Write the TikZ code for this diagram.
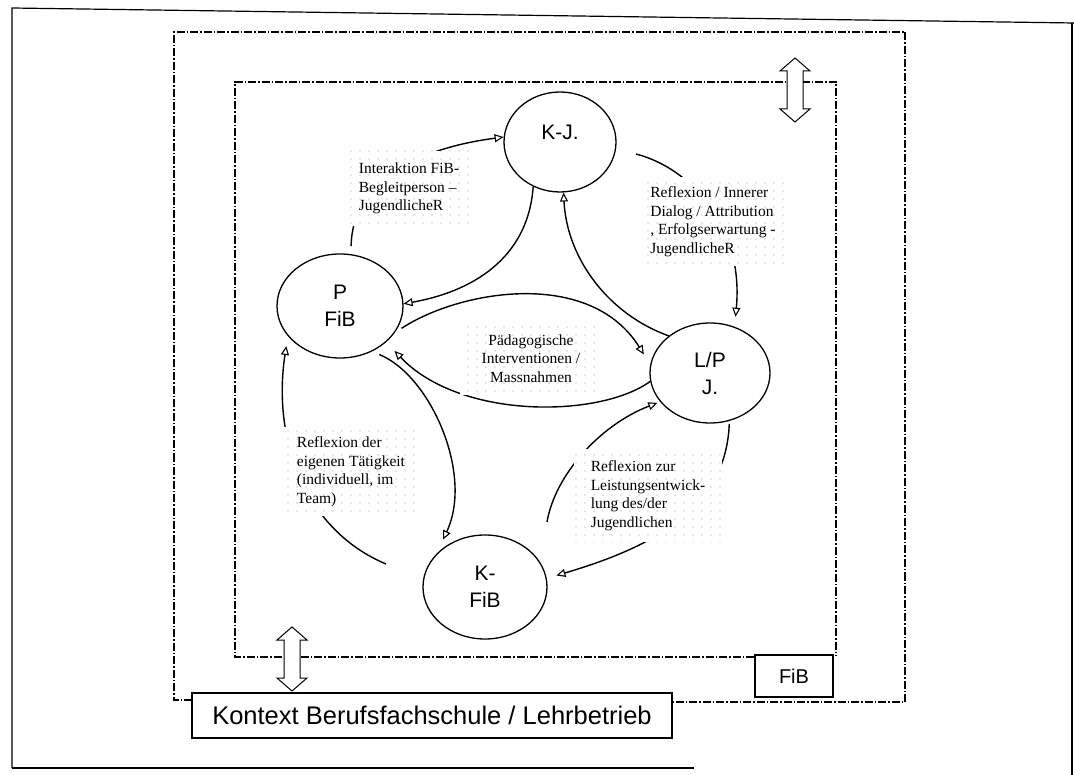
\documentclass[tikz,border=0pt]{standalone}
\usepackage{fontspec}
\setmainfont{Liberation Serif}
\newfontfamily\sansf{Liberation Sans}
\usetikzlibrary{arrows.meta,shapes.geometric,patterns.meta}
\tikzdeclarepattern{
  name=sparsedots,
  type=uncolored,
  bottom left={(-1pt,-1pt)},
  top right={(1pt,1pt)},
  tile size={(9pt,8pt)},
  code={\pgfpathcircle{\pgfpointorigin}{0.6pt}\pgfusepath{fill}}
}
\begin{document}
\begin{tikzpicture}[x=1pt,y=-1pt,
  ell/.style={draw, ellipse, line width=1.3pt, inner sep=0pt, align=center,
     font=\sansf\fontsize{21}{27}\selectfont},
  conn/.style={line width=1.4pt, -{Triangle[open,length=9pt,width=8pt,line width=1.1pt]}},
  lab/.style={preaction={fill=white}, pattern=sparsedots, pattern color=black!40,
     align=left, inner sep=0pt, font=\fontsize{15.5}{18.5}\selectfont},
  frame/.style={line width=1.2pt},
  dd/.style={line width=1.1pt, dash pattern=on 8pt off 2pt on 1.5pt off 2pt},
  txtbox/.style={draw, line width=1.2pt, fill=white, inner sep=0pt,
     font=\sansf\fontsize{20}{24}\selectfont},
  dblv/.pic={\draw[line width=1pt, fill=white] (0,0) -- (15,13) -- (8,13) -- (8,51)
     -- (15,51) -- (0,64) -- (-15,51) -- (-8,51) -- (-8,13) -- (-15,13) -- cycle;}
]
\useasboundingbox (0,0) rectangle (1074,775);
\fill[white] (0,0) rectangle (1074,775);

% outer solid frame
\draw[frame] (12,768) -- (12,8) -- (1074,23);
\draw[frame] (1072,23) -- (1072,775);
\draw[frame] (12,768) -- (694,768);

% dash-dot frames
\draw[dd] (192,700) -- (174,700) -- (174,32) -- (905,32) -- (905,702) -- (672,702);
\draw[dd] (754,657) -- (235,657) -- (235,82) -- (836,82) -- (836,656);

% double arrows
\pic at (795,58) {dblv};
\pic at (292,627) {dblv};

% boxes
\node[txtbox, minimum width=480pt, minimum height=45pt,
      font=\sansf\fontsize{25.5}{29}\selectfont] (ctx) at (432,715.5)
      {Kontext Berufsfachschule / Lehrbetrieb};
\node[txtbox, minimum width=78pt, minimum height=42pt] (fib) at (794,676) {FiB};

% ellipses
\node[ell, minimum width=112pt, minimum height=100pt] (kj) at (560,142) {K-J.\\[-8pt]\mbox{}};
\node[ell, minimum width=126pt, minimum height=104pt] (p) at (340,306) {P\\FiB};
\node[ell, minimum width=120pt, minimum height=100pt] (lp) at (710,373) {L/P\\J.};
\node[ell, minimum width=124pt, minimum height=104pt] (kf) at (485,587) {K-\\FiB};

% free connector ends
\coordinate (ds) at (636,154);
\coordinate (hs) at (386,564);
\coordinate (js) at (547,522);

% connectors
\draw[conn, shorten <=8pt] (p.78) .. controls (352,180) and (420,148) .. (kj.175);
\draw[conn] (kj.-121) .. controls (528,260) and (470,292) .. (p.2);
\draw[conn] (lp.138) .. controls (610,315) and (567,260) .. (kj.-86);
\draw[conn, shorten >=10pt] (ds) .. controls (690,168) and (744,225) .. (lp.62);
\draw[conn, shorten <=8pt, shorten >=12pt] (p.-26) .. controls (460,290) and (590,268) .. (lp.172);
\draw[conn, shorten >=12pt] (lp.-172) .. controls (600,418) and (460,420) .. (p.-38);
\draw[conn, shorten <=8pt, shorten >=16pt] (p.-55) .. controls (430,375) and (474,474) .. (kf.146);
\draw[conn, shorten >=10pt] (hs) .. controls (305,530) and (272,440) .. (p.-150);
\draw[conn, shorten <=3pt, shorten >=10pt] (lp.-68) .. controls (726,505) and (660,545) .. (kf.8);
\draw[conn, shorten >=3pt] (js) .. controls (555,475) and (600,425) .. (lp.-150);

% labels
\node[lab, inner xsep=12pt, inner ysep=12pt] (l1) at (409,188.5)
  {Interaktion FiB-\\Begleitperson --\\JugendlicheR};
\node[lab, inner xsep=10pt, inner ysep=10pt] (l2) at (713,221.5)
  {Reflexion / Innerer\\Dialog / Attribution\\, Erfolgserwartung -\\JugendlicheR};
\node[lab, align=center, inner xsep=22pt, inner ysep=13pt] (l3) at (531,358.5)
  {Pädagogische\\Interventionen /\\Massnahmen};
\node[lab, inner xsep=17pt, inner ysep=10pt] (l4) at (351,471.5)
  {Reflexion der\\eigenen Tätigkeit\\(individuell, im\\Team)};
\node[lab, inner xsep=17pt, inner ysep=12pt] (l5) at (648,495.5)
  {Reflexion zur\\Leistungsentwick-\\lung des/der\\Jugendlichen};
\end{tikzpicture}
\end{document}
